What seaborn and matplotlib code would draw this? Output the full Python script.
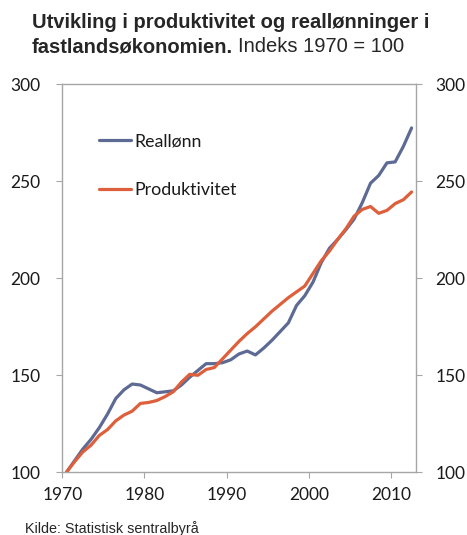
import numpy as np
import pandas as pd
import matplotlib
matplotlib.use("Agg")
import matplotlib.pyplot as plt
import seaborn as sns

years = list(range(1970, 2013))
reallonn = [100, 106, 112, 117, 123, 130, 138, 142.5, 145.5, 145,
            143, 141, 141.5, 142, 145, 149, 152.5, 156, 156, 156.5,
            158, 161, 162.5, 160.5, 164, 168, 172.5, 177, 186, 191,
            198, 208, 215.5, 220, 225, 230.5, 239, 249, 253, 259.5,
            260, 268, 277.5]
produktivitet = [100, 105.5, 110.5, 114, 119, 122, 126.5, 129.5, 131.5, 135.5,
                 136, 137, 139, 141.5, 146.5, 150.5, 150, 153, 154, 158.5,
                 163, 167.5, 171.5, 175, 179, 183, 186.5, 190, 193, 196,
                 202.5, 209, 214, 220, 225.5, 232, 235.5, 237, 233.5, 235,
                 238.5, 240.5, 244.5]
series_names = ["Reallønn", "Produktivitet"]
xticks = [1970, 1980, 1990, 2000, 2010]
yticks = [100, 150, 200, 250, 300]

df = pd.DataFrame({
    "year": years * 2,
    "value": reallonn + produktivitet,
    "serie": [series_names[0]] * len(years) + [series_names[1]] * len(years),
})
# category-style axis: each year's point sits in the middle of its slot
df["x"] = df["year"] + 0.5

sns.set_style("white")
plt.rcParams["font.family"] = ["Lato", "DejaVu Sans"]

W, H = 467, 535
fig = plt.figure(figsize=(W / 100, H / 100), dpi=100)
ax = fig.add_axes([62.3 / W, 1 - 472.3 / H, (415.7 - 62.3) / W, (472.3 - 84.3) / H])

palette = {"Reallønn": "#5D6A94", "Produktivitet": "#DE5F3B"}
sns.lineplot(data=df, x="x", y="value", hue="serie", palette=palette,
             linewidth=2.3, ax=ax, legend=True)

ax.set_xlim(1970, 2013)
ax.set_ylim(100, 300)
ax.set_xticks(xticks)
ax.set_xticklabels([str(t) for t in xticks])
ax.set_yticks(yticks)
ax.set_yticklabels([str(t) for t in yticks])
ax.set_xlabel("")
ax.set_ylabel("")

spine_col = "#A6A6A6"
for s in ax.spines.values():
    s.set_visible(True)
    s.set_color(spine_col)
    s.set_linewidth(1.0)

txt_col = "#1a1a1a"
ax.tick_params(axis="both", which="both", direction="out", length=4.3,
               color=spine_col, labelsize=12.5, labelcolor=txt_col)
ax.tick_params(axis="y", left=True, right=False, pad=11.5)
ax.tick_params(axis="x", bottom=True, pad=6)

ax2 = ax.twinx()
ax2.set_ylim(ax.get_ylim())
ax2.set_yticks(yticks)
ax2.set_yticklabels([str(t) for t in yticks])
for s in ax2.spines.values():
    s.set_visible(False)
ax2.tick_params(axis="y", right=True, labelright=True, direction="out", length=4.3,
                color=spine_col, labelsize=12.5, labelcolor=txt_col, pad=10)
ax2.grid(False)

leg = ax.legend(loc="upper left", bbox_to_anchor=(0.105, 0.873), frameon=False,
                fontsize=12.8, handlelength=1.8, handletextpad=0.15,
                labelspacing=1.85, borderpad=0, borderaxespad=0)
for t in leg.get_texts():
    t.set_color(txt_col)

tfs = 14.5
fig.text(31.7 / W, 1 - 22 / H, "Utvikling i produktivitet og reallønninger i",
         fontsize=tfs, fontweight="bold", family="Liberation Sans", va="center", ha="left")
b = fig.text(31.7 / W, 1 - 47 / H, "fastlandsøkonomien.",
             fontsize=tfs, fontweight="bold", family="Liberation Sans", va="center", ha="left")
fig.canvas.draw()
bb = b.get_window_extent()
x_after = bb.x1 + 0.28 * tfs * 100 / 72
fig.text(x_after / W, 1 - 47 / H, "Indeks 1970 = 100",
         fontsize=tfs, family="Liberation Sans", va="center", ha="left")
fig.text(25 / W, 1 - 529 / H, "Kilde: Statistisk sentralbyrå",
         fontsize=10.4, family="Liberation Sans", va="center", ha="left")

fig.savefig("out.png", dpi=100)
